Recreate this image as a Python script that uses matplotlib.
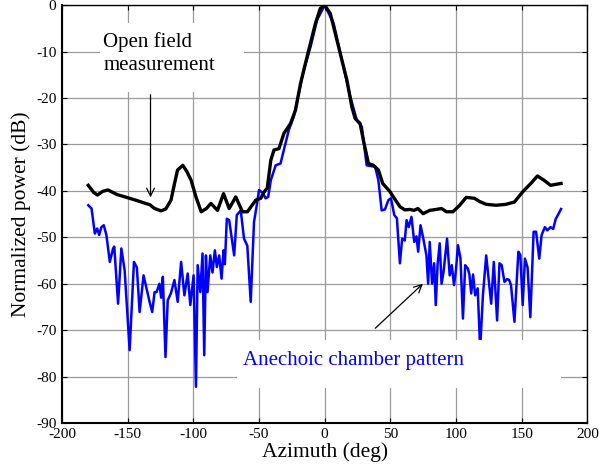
import matplotlib
matplotlib.use("Agg")
import matplotlib.pyplot as plt
from matplotlib.patches import Rectangle

plt.rcParams['font.family'] = ['Liberation Serif', 'DejaVu Serif']
plt.rcParams['axes.unicode_minus'] = False

# Open field measurement (black)
open_az = [-180, -176, -173, -169, -165, -158, -152, -145, -139.6, -133, -129.5, -124.5, -121, -117,
           -114, -112, -108, -105, -101.7, -98, -94, -90, -86.6, -81.6, -77, -72.7, -67.7, -62.6,
           -58.8, -52.5, -48.7, -46, -43.7, -41, -38.6, -34.8, -31, -26, -22.2, -18.4, -14.6, -10.8,
           -7, -3.3, 0, 4.3, 8.1, 13.1, 16.9, 20.7, 23.2, 27, 29.5, 33.3, 37.1, 40.9, 44.2, 49.8, 53,
           57.3, 61, 65, 68, 71, 75, 80, 85, 89, 92.7, 97.7, 102.8, 107.8, 114, 118, 123, 130.5, 138,
           144.5, 150.8, 157, 162, 167, 172, 176, 180]
open_db = [-38.8, -40.3, -40.9, -40.1, -39.8, -40.8, -41.3, -41.9, -42.4, -43.0, -43.8, -44.3, -43.9, -42.0,
           -38.0, -35.5, -34.5, -35.8, -37.7, -41.3, -44.5, -43.8, -42.7, -44.2, -40.6, -43.8, -41.3, -44.5,
           -44.5, -42.0, -41.6, -40.2, -39.4, -33.4, -31.2, -30.9, -27.6, -25.5, -22.6, -16.9, -12.5, -8.2,
           -3.9, -0.7, 0.0, -1.8, -6.1, -11.8, -16.1, -21.9, -24.4, -25.5, -29.1, -34.1, -34.5, -35.5, -38.4,
           -40.2, -41.6, -43.4, -44.1, -44.0, -44.2, -43.8, -44.9, -44.2, -44.0, -43.8, -44.5, -44.5, -43.1,
           -41.4, -41.6, -42.3, -42.9, -43.1, -42.9, -42.4, -40.2, -38.4, -36.8, -37.7, -38.8, -38.6, -38.4]

# Anechoic chamber pattern (blue)
anech_az = [-180, -177.5, -175, -173.2, -171.7, -170, -168.2, -166.2, -163.6, -161.1, -160.2, -157.3,
            -154.8, -152.3, -148.5, -145.2, -143, -140.9, -137.9, -133.3, -131.3, -129.5, -128, -125.8,
            -124.5, -123.2, -121.2, -119.5, -117, -114.4, -111.9, -109.3, -106.8, -104.3, -102.3, -99.8,
            -98, -96.7, -94.7, -93, -91.7, -90.4, -89.2, -87.1, -85.4, -83.6, -82.1, -80.3, -78.5, -77,
            -76, -74.5, -72.7, -68.9, -66.9, -63.9, -61.4, -58.9, -56.3, -53.8, -51.3, -50, -47, -45,
            -43, -41, -37.3, -33.6, -31.1, -27.3, -23.5, -19.7, -15.9, -10.8, -5.8, 0, 6.8, 13.1, 19.5,
            24.5, 28.3, 32, 38.4, 40.9, 43.4, 45.9, 48.5, 50.5, 53, 55, 57.3, 59, 61, 62.4, 64, 66.1,
            68.2, 69.9, 71.2, 73, 75, 77.5, 78.8, 80, 81.8, 83.4, 84.6, 86, 87.6, 89, 90.5, 93.2, 95.2,
            96.8, 98.5, 100, 101.5, 103.4, 105.3, 107, 109, 110.2, 111.6, 113, 114.6, 116.5, 118.4,
            120.5, 123, 126.8, 128.8, 131.3, 133.1, 134.8, 136.9, 139, 140.5, 141.9, 144.5, 147.5, 149,
            150.8, 152.5, 154.5, 156.6, 159.1, 161, 163.4, 165.2, 167.7, 169.5, 172, 174, 176, 178, 180]
anech_db = [-43.1, -43.8, -49.2, -48.1, -49.5, -47.8, -47.4, -49.5, -55.3, -52.4, -52.0, -64.3,
            -52.4, -57.1, -74.3, -55.3, -56.5, -66.1, -58.2, -63.9, -66.1, -61.8, -61.8, -60.0,
            -63.0, -58.5, -75.8, -63.6, -62.0, -59.2, -63.9, -55.3, -62.5, -57.8, -64.6, -58.2,
            -82.2, -56.0, -61.8, -53.5, -75.4, -53.9, -61.8, -53.9, -57.6, -52.8, -56.4, -53.9, -58.9, -52.8,
            -55.8, -46.0, -46.3, -53.9, -45.2, -44.2, -50.3, -51.8, -63.9, -46.7, -42.4, -39.8, -40.5, -41.6,
            -41.3, -37.7, -34.5, -34.1, -31.2, -26.9, -24.0, -19.0, -14.0, -9.0, -3.2, 0.0, -3.9, -11.8, -19.7,
            -24.8, -26.2, -34.5, -34.8, -37.7, -44.2, -44.0, -42.0, -41.6, -45.2, -45.9, -55.6, -50.3, -50.7, -46.3, -47.8, -45.6,
            -51.0, -49.8, -53.1, -47.4, -50.1, -53.9, -60.0, -51.0, -60.0, -55.6, -64.6, -55.8, -51.3, -60.0, -57.5, -50.3, -58.2,
            -56.0, -60.3, -57.0, -51.7, -54.5, -67.5, -56.0, -56.7, -58.0, -62.1, -58.0, -62.5, -61.0, -74.0,
            -62.5, -53.9, -64.3, -55.3, -67.9, -55.6, -56.0, -59.6, -59.0, -59.2, -60.3, -68.2, -53.1, -53.8,
            -64.6, -54.6, -56.5, -67.2, -48.8, -48.8, -54.6, -49.5, -47.8, -48.5, -47.8, -48.2, -46.0, -45.0, -43.9]

x_ticks = [-200, -150, -100, -50, 0, 50, 100, 150, 200]
y_ticks = [-90, -80, -70, -60, -50, -40, -30, -20, -10, 0]

fig = plt.figure(figsize=(5.99, 4.70), dpi=100)
ax = fig.add_axes([0.1035, 0.1, 0.877, 0.889])

ax.plot(anech_az, anech_db, color='#0000ff', lw=1.8, zorder=2)
ax.plot(open_az, open_db, color='black', lw=2.4, zorder=2.5)

ax.set_xlim(-200, 200)
ax.set_ylim(-90, 0)
ax.set_xticks(x_ticks)
ax.set_yticks(y_ticks)
ax.grid(True, color='#9a9a9a', lw=0.9)
ax.set_axisbelow(True)
ax.tick_params(direction='in', top=True, right=True, length=3.5, labelsize=11, width=0.8)
ax.tick_params(axis='y', pad=4)
for s in ['left', 'bottom']:
    ax.spines[s].set_linewidth(1.5)
for s in ['top', 'right']:
    ax.spines[s].set_linewidth(1.0)

ax.set_xlabel('Azimuth (deg)', fontsize=15.5, labelpad=1)
ax.set_ylabel('Normalized power (dB)', fontsize=15.5, labelpad=4)

# white boxes behind annotations
ax.add_patch(Rectangle((-171.2, -18.7), 109.8, 14.8, facecolor='white', edgecolor='none', zorder=3))
ax.add_patch(Rectangle((-66.7, -82.5), 247.0, 10.3, facecolor='white', edgecolor='none', zorder=3))

ax.text(-168.5, -5.9, 'Open field\nmeasurement', fontsize=15, va='top', ha='left',
        linespacing=1.25, zorder=4)
ax.text(-62.5, -77.5, 'Anechoic chamber pattern', fontsize=15, color='#0000ff',
        va='baseline', ha='left', zorder=4)

ax.annotate('', xy=(-132.6, -42.0), xytext=(-132.6, -18.7),
            arrowprops=dict(arrowstyle='->', color='black', lw=0.9, mutation_scale=14), zorder=4)
ax.annotate('', xy=(76.3, -59.6), xytext=(37.0, -70.0),
            arrowprops=dict(arrowstyle='->', color='black', lw=0.9, mutation_scale=14), zorder=4)

fig.savefig('out.png', dpi=100)
